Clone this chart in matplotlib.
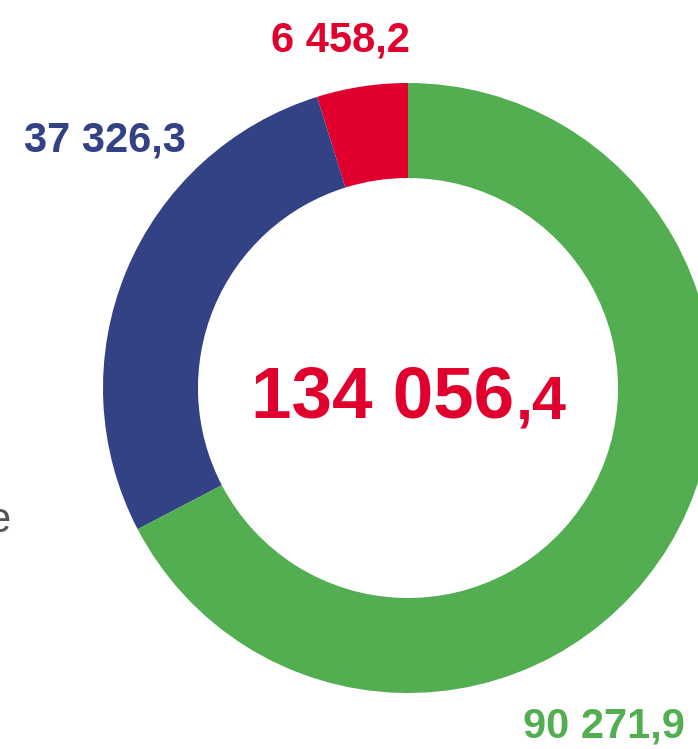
import matplotlib
matplotlib.use("Agg")
import matplotlib.pyplot as plt

categories = ["Red", "Blue", "Green"]
values = [6458.2, 37326.3, 90271.9]
labels = ["6 458,2", "37 326,3", "90 271,9"]
colors = ["#E1002D", "#334285", "#52AE50"]
total_main = "134 056"
total_dec = ",4"

W, H = 698, 749
fig = plt.figure(figsize=(W / 100, H / 100), dpi=100)
ax = fig.add_axes([0, 0, 1, 1])

cx, cy, R = 408, H - 388, 305
ax.pie(values, colors=colors, startangle=90, counterclock=True,
       center=(cx, cy), radius=R,
       wedgeprops=dict(width=95, edgecolor="none"), frame=True)
ax.set_xlim(0, W)
ax.set_ylim(0, H)
ax.set_aspect("equal")
ax.axis("off")

font = "Liberation Sans"
ax.text(340, H - 52, labels[0], color=colors[0], fontsize=30, fontweight="bold",
        family=font, ha="center", va="baseline")
ax.text(105, H - 152, labels[1], color=colors[1], fontsize=30, fontweight="bold",
        family=font, ha="center", va="baseline")
ax.text(604, H - 738, labels[2], color=colors[2], fontsize=30, fontweight="bold",
        family=font, ha="center", va="baseline")

ax.text(251, H - 418, total_main, color=colors[0], fontsize=52.5, fontweight="bold",
        family=font, ha="left", va="baseline")
ax.text(516, H - 418, total_dec, color=colors[0], fontsize=44, fontweight="bold",
        family=font, ha="left", va="baseline")

ax.text(10, H - 532, "e", color="#555555", fontsize=30, family=font,
        ha="right", va="baseline")

fig.savefig("out.png", dpi=100)
